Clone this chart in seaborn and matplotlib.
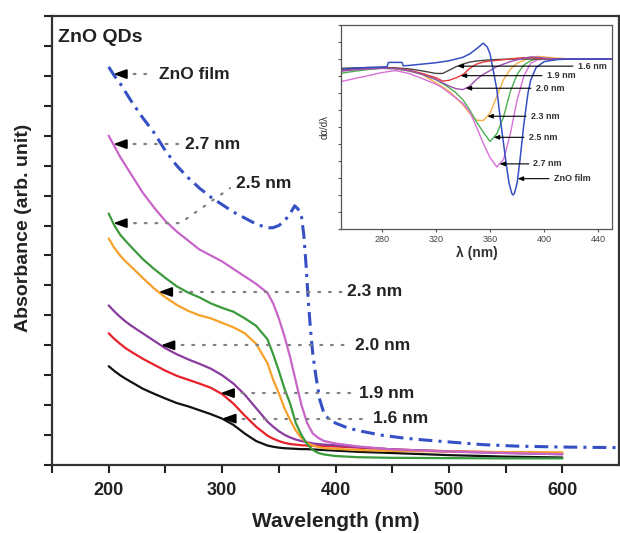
import numpy as np
import pandas as pd
import matplotlib
matplotlib.use("Agg")
import matplotlib.pyplot as plt
import seaborn as sns

# ---------------- absorbance spectra (main panel) ----------------
wl_qd = [200, 205, 210, 215, 220, 230, 240, 250, 260, 270, 280, 290, 300, 310,
         320, 330, 340, 345, 350, 355, 360, 365, 370, 375, 380, 385, 390, 400,
         420, 450, 500, 550, 600]

abs_27 = [1.10, 1.065, 1.03, 1.0, 0.97, 0.91, 0.86, 0.815, 0.78, 0.75, 0.72,
          0.70, 0.68, 0.655, 0.63, 0.605, 0.575, 0.54, 0.49, 0.43, 0.36, 0.28,
          0.20, 0.14, 0.105, 0.09, 0.08, 0.072, 0.062, 0.052, 0.045, 0.040,
          0.036]
abs_25 = [0.84, 0.80, 0.77, 0.748, 0.728, 0.688, 0.655, 0.625, 0.597, 0.576,
          0.56, 0.54, 0.525, 0.512, 0.49, 0.465, 0.42, 0.37, 0.315, 0.255,
          0.205, 0.14, 0.10, 0.07, 0.05, 0.04, 0.035, 0.03, 0.026, 0.024,
          0.023, 0.022, 0.022]
abs_23 = [0.757, 0.725, 0.70, 0.68, 0.662, 0.625, 0.59, 0.56, 0.535, 0.515,
          0.50, 0.49, 0.475, 0.46, 0.44, 0.405, 0.34, 0.285, 0.24, 0.19, 0.15,
          0.115, 0.09, 0.074, 0.065, 0.06, 0.056, 0.054, 0.05, 0.047, 0.045,
          0.043, 0.042]
abs_20 = [0.533, 0.513, 0.495, 0.479, 0.465, 0.44, 0.415, 0.39, 0.37, 0.353,
          0.338, 0.322, 0.30, 0.272, 0.235, 0.19, 0.145, 0.128, 0.113, 0.101,
          0.092, 0.085, 0.08, 0.076, 0.072, 0.07, 0.068, 0.066, 0.06, 0.052,
          0.045, 0.04, 0.036]
abs_19 = [0.44, 0.421, 0.405, 0.39, 0.378, 0.355, 0.335, 0.315, 0.298, 0.285,
          0.272, 0.258, 0.237, 0.205, 0.165, 0.128, 0.098, 0.088, 0.08, 0.074,
          0.07, 0.068, 0.066, 0.065, 0.064, 0.063, 0.063, 0.062, 0.058, 0.052,
          0.046, 0.042, 0.04]
abs_16 = [0.33, 0.314, 0.30, 0.288, 0.277, 0.255, 0.238, 0.222, 0.207, 0.196,
          0.183, 0.17, 0.155, 0.134, 0.105, 0.08, 0.065, 0.061, 0.058, 0.056,
          0.055, 0.054, 0.053, 0.053, 0.052, 0.051, 0.05, 0.048, 0.044, 0.04,
          0.033, 0.028, 0.025]

wl_film = [200, 205, 210, 215, 220, 230, 240, 250, 260, 270, 280, 290, 300,
           310, 320, 330, 340, 345, 350, 355, 360, 364, 367, 370, 372, 374,
           376, 378, 380, 383, 386, 390, 395, 400, 410, 420, 440, 460, 480,
           500, 530, 560, 600, 650]
abs_film = [1.33, 1.30, 1.275, 1.245, 1.215, 1.16, 1.11, 1.05, 1.00, 0.96,
            0.925, 0.895, 0.87, 0.845, 0.825, 0.805, 0.792, 0.793, 0.80, 0.815,
            0.84, 0.866, 0.855, 0.83, 0.77, 0.67, 0.55, 0.45, 0.37, 0.29, 0.22,
            0.17, 0.15, 0.14, 0.125, 0.115, 0.10, 0.09, 0.083, 0.077, 0.068,
            0.063, 0.06, 0.058]

# ---------------- derivative spectra (inset) ----------------
wl_d = [250, 260, 270, 280, 290, 300, 310, 320, 325, 330, 335, 340, 345, 350,
        355, 360, 365, 370, 375, 380, 385, 390, 395, 400, 410, 420, 450]
d_27 = [-0.133, -0.115, -0.098, -0.08, -0.068, -0.085, -0.115, -0.148, -0.17,
        -0.20, -0.23, -0.262, -0.31, -0.40, -0.496, -0.58, -0.635, -0.59,
        -0.44, -0.24, -0.10, -0.025, -0.005, 0.0, 0.0, 0.0, 0.0]
d_25 = [-0.084, -0.072, -0.062, -0.055, -0.058, -0.07, -0.09, -0.122, -0.145,
        -0.17, -0.20, -0.24, -0.30, -0.37, -0.43, -0.485, -0.44, -0.34, -0.19,
        -0.09, -0.035, -0.01, 0.003, 0.003, 0.0, 0.0, 0.0]
d_23 = [-0.065, -0.06, -0.056, -0.054, -0.055, -0.07, -0.092, -0.14, -0.165,
        -0.19, -0.23, -0.27, -0.32, -0.36, -0.362, -0.32, -0.22, -0.12, -0.06,
        -0.025, -0.008, 0.01, 0.015, 0.012, 0.005, 0.0, 0.0]
d_20 = [-0.072, -0.064, -0.058, -0.055, -0.056, -0.068, -0.09, -0.12, -0.14,
        -0.16, -0.175, -0.18, -0.16, -0.12, -0.09, -0.068, -0.045, -0.03,
        -0.015, -0.005, 0.005, 0.012, 0.01, 0.005, 0.0, 0.0, 0.0]
d_19 = [-0.065, -0.06, -0.056, -0.054, -0.055, -0.065, -0.085, -0.11, -0.13,
        -0.125, -0.11, -0.092, -0.055, -0.03, -0.018, -0.012, -0.008, -0.004,
        0.0, 0.005, 0.008, 0.008, 0.005, 0.003, 0.0, 0.0, 0.0]
d_16 = [-0.055, -0.052, -0.05, -0.05, -0.052, -0.058, -0.07, -0.085, -0.085,
        -0.065, -0.045, -0.03, -0.018, -0.012, -0.008, -0.005, -0.003, -0.002,
        0.0, 0.0, 0.0, 0.0, 0.0, 0.0, 0.0, 0.0, 0.0]

wl_d_film = [250, 260, 270, 280, 284, 285, 295, 296, 300, 310, 320, 330, 340,
             345, 350, 355, 358, 360, 362, 365, 368, 370, 372, 374, 376, 377,
             378, 380, 382, 385, 388, 390, 394, 400, 410, 420, 450]
d_film = [-0.06, -0.055, -0.05, -0.047, -0.045, -0.02, -0.02, -0.04, -0.038,
          -0.03, -0.022, -0.01, 0.01, 0.03, 0.06, 0.093, 0.07, 0.03, -0.05,
          -0.18, -0.38, -0.50, -0.62, -0.73, -0.79, -0.80, -0.79, -0.73, -0.60,
          -0.38, -0.20, -0.124, -0.05, -0.015, -0.003, 0.0, 0.0]

sizes = ["1.6 nm", "1.9 nm", "2.0 nm", "2.3 nm", "2.5 nm", "2.7 nm"]
colors = ["#111111", "#e8202a", "#8a3c9e", "#f7a02a", "#3b9a3b", "#c865c8"]
inset_colors = ["#444444", "#e83838", "#9b50b2", "#f5b04a", "#4caf50", "#d670d6"]
film_color = "#3550c4"

# label placement: arrow tip wavelength and text start wavelength
main_tip = {"ZnO film": 204, "2.7 nm": 204, "2.5 nm": 204, "2.3 nm": 244,
            "2.0 nm": 246, "1.9 nm": 298.5, "1.6 nm": 300}
main_txt = {"ZnO film": 244, "2.7 nm": 267, "2.5 nm": 312, "2.3 nm": 410,
            "2.0 nm": 417, "1.9 nm": 421, "1.6 nm": 433}
inset_tip = {"1.6 nm": 336, "1.9 nm": 338.3, "2.0 nm": 342, "2.3 nm": 358,
             "2.5 nm": 362.7, "2.7 nm": 367, "ZnO film": 380.4}
inset_txt = {"1.6 nm": 424.6, "1.9 nm": 401.8, "2.0 nm": 393.7, "2.3 nm": 390,
             "2.5 nm": 388.5, "2.7 nm": 392, "ZnO film": 407}

sns.set_style("ticks")
plt.rcParams["font.family"] = ["Liberation Sans", "DejaVu Sans"]

W, H = 620, 533
fig = plt.figure(figsize=(W / 100, H / 100), dpi=100)
ax = fig.add_axes([52 / W, 1 - 465 / H, 567 / W, 449 / H])

spectra = {"1.6 nm": abs_16, "1.9 nm": abs_19, "2.0 nm": abs_20,
           "2.3 nm": abs_23, "2.5 nm": abs_25, "2.7 nm": abs_27}
for name, col in zip(sizes, colors):
    sns.lineplot(x=wl_qd, y=spectra[name], ax=ax, color=col, lw=1.6)
sns.lineplot(x=wl_film, y=abs_film, ax=ax, color=film_color, lw=2.2,
             linestyle=(0, (4.5, 2, 1, 2)))

ax.set_xlim(150, 650)
ax.set_ylim(0, 1.5)
ax.set_xticks([200, 300, 400, 500, 600])
ax.set_xticks([150, 250, 350, 450, 550], minor=True)
ax.set_yticks(np.arange(0, 1.51, 0.1))
ax.set_yticklabels([])
ax.tick_params(axis="both", which="both", direction="out", width=1.5,
               length=6, color="#222222")
ax.tick_params(axis="x", labelsize=13, pad=6, labelcolor="#222222")
for lbl in ax.get_xticklabels():
    lbl.set_fontweight("bold")
for s in ax.spines.values():
    s.set_linewidth(1.6)
    s.set_color("#333333")

ax.set_xlabel("Wavelength (nm)", fontsize=15, fontweight="bold", color="#222222",
              va="center")
ax.xaxis.set_label_coords(0.5, -0.125)
ax.set_ylabel("Absorbance (arb. unit)", fontsize=14, fontweight="bold",
              color="#222222", va="center")
ax.yaxis.set_label_coords(-0.05, 0.528)

ax.text(0.011, 0.953, "ZnO QDs", transform=ax.transAxes, fontsize=14,
        fontweight="bold", color="#222222", va="center", ha="left")

all_main = dict(spectra)
all_main["ZnO film"] = abs_film
main_x = {k: wl_qd for k in sizes}
main_x["ZnO film"] = wl_film

dot_style = dict(color="#808080", lw=1.6, linestyle=(0, (0.8, 4)),
                 dash_capstyle="round")
for name, tip in main_tip.items():
    ty = float(np.interp(tip, main_x[name], all_main[name]))
    ax.annotate("", xy=(tip, ty), xytext=(tip + 8.5, ty),
                arrowprops=dict(arrowstyle="-|>,head_length=0.55,head_width=0.2",
                                color="black", lw=1.4, shrinkA=0, shrinkB=0,
                                mutation_scale=14))
    tx = main_txt[name]
    if name == "2.5 nm":
        ax.plot([tip + 9, 263, tx - 5], [ty, ty, 0.925], **dot_style)
        ax.text(tx, 0.94, name, fontsize=12.5, fontweight="bold",
                color="#222222", va="center", ha="left")
    else:
        ax.plot([tip + 9, tx - 4], [ty, ty], **dot_style)
        ax.text(tx, ty, name, fontsize=12.5, fontweight="bold",
                color="#222222", va="center", ha="left")

# ---------------- inset ----------------
axi = fig.add_axes([341 / W, 1 - 229 / H, 271 / W, 204 / H])
axi.set_facecolor("white")
deriv = {"1.6 nm": d_16, "1.9 nm": d_19, "2.0 nm": d_20,
         "2.3 nm": d_23, "2.5 nm": d_25, "2.7 nm": d_27}
draw_order = ["2.3 nm", "2.5 nm", "2.7 nm", "1.6 nm", "1.9 nm", "2.0 nm"]
for name in draw_order:
    col = inset_colors[sizes.index(name)]
    sns.lineplot(x=wl_d, y=deriv[name], ax=axi, color=col, lw=1.0)
sns.lineplot(x=wl_d_film, y=d_film, ax=axi, color=film_color, lw=1.1)

axi.set_xlim(250, 450)
axi.set_ylim(-1.0, 0.2)
axi.set_xticks([280, 320, 360, 400, 440])
axi.set_yticks(np.arange(-1.0, 0.21, 0.1))
axi.set_yticklabels([])
axi.tick_params(axis="both", direction="out", length=2.5, width=0.8,
                color="#555555", labelsize=6.5, labelcolor="#444444", pad=2)
for s in axi.spines.values():
    s.set_linewidth(0.9)
    s.set_color("#555555")
axi.set_xlabel("λ (nm)", fontsize=10, fontweight="bold", color="#333333",
               labelpad=1)
axi.set_ylabel("dα/dλ", fontsize=7, color="#333333", labelpad=4)

all_d = dict(deriv)
all_d["ZnO film"] = d_film
d_x = {k: wl_d for k in sizes}
d_x["ZnO film"] = wl_d_film
for name, tip in inset_tip.items():
    ty = float(np.interp(tip, d_x[name], all_d[name]))
    axi.annotate(name, xy=(tip, ty), xytext=(inset_txt[name], ty),
                 fontsize=6.5, fontweight="bold", color="#333333",
                 va="center", ha="left", annotation_clip=False,
                 arrowprops=dict(arrowstyle="-|>,head_length=0.5,head_width=0.2",
                                 color="black", lw=0.8, shrinkA=1, shrinkB=0))

fig.savefig("out.png", dpi=100)
